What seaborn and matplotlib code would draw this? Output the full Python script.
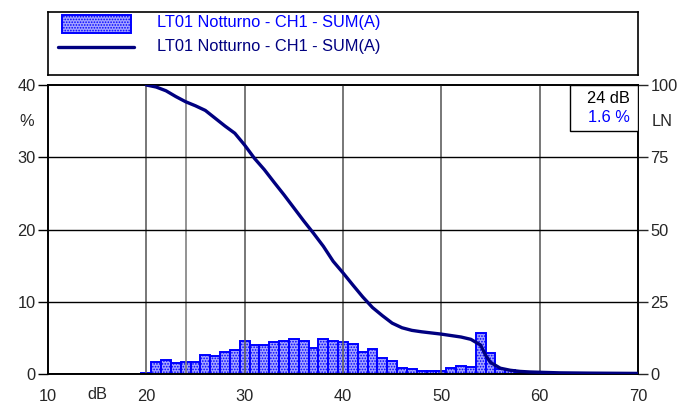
import numpy as np
import matplotlib
matplotlib.use("Agg")
import matplotlib.pyplot as plt
from matplotlib.patches import Rectangle
import seaborn as sns

sns.set_style("white")
plt.rcParams['font.family'] = ['Liberation Sans', 'DejaVu Sans']
plt.rcParams['hatch.linewidth'] = 0.8

# distribuzione (%) per classe di 1 dB
livelli = list(range(20, 70))
perc = [0.1, 1.66, 2.0, 1.58, 1.66, 1.72, 2.63, 2.5, 3.1, 3.3,
        4.57, 3.97, 4.07, 4.4, 4.5, 4.9, 4.6, 3.65, 4.9, 4.6,
        4.43, 4.1, 3.1, 3.5, 2.27, 1.76, 0.88, 0.7, 0.35, 0.35,
        0.35, 0.88, 1.06, 0.97, 5.65, 2.87, 0.75, 0.55, 0.3, 0.15,
        0.1, 0.05, 0.05, 0.05, 0.05, 0.05, 0.05, 0.05, 0.05, 0.05]

# curva LN (%)
ln_db = [20, 21, 22, 23, 24, 25, 26, 27, 28, 29, 30, 31, 32, 33, 34, 35, 36, 37, 38, 39,
         40, 41, 42, 43, 44, 45, 46, 47, 48, 49, 50, 51, 52, 53, 54, 54.5, 55, 56, 57, 58,
         59, 60, 62, 65, 70]
ln_val = [100, 99.3, 98.0, 96.0, 94.2, 92.8, 91.2, 88.5, 85.8, 83.3, 79.2, 74.6, 70.7, 66.3,
          62.0, 57.5, 53.0, 48.7, 44.2, 39.0, 35.0, 30.8, 26.7, 23.0, 20.2, 17.6, 16.0, 15.1,
          14.6, 14.2, 13.8, 13.3, 12.8, 12.0, 10.0, 6.5, 4.0, 2.0, 1.3, 0.9, 0.7, 0.6, 0.4,
          0.3, 0.2]

serie = "LT01 Notturno - CH1 - SUM(A)"
cursore_db = 24
cursore_txt = ["24 dB", "1.6 %"]

blu = "#0000ff"
navy = "#000080"
riemp = "#a4a4ff"
fs = 11.8

fig = plt.figure(figsize=(6.96, 4.05), dpi=100)
ax = fig.add_axes([48 / 696, 31 / 405, 590 / 696, 289 / 405])

sns.histplot(x=livelli, weights=perc, discrete=True, ax=ax, stat="count",
             color=riemp, edgecolor=blu, linewidth=1.4, alpha=1, zorder=2)
for p in ax.patches:
    p.set_hatch("......")
    p.set_facecolor(riemp)
    p.set_edgecolor(blu)

ax.set_xlim(10, 70)
ax.set_ylim(0, 40)
ax.set_yticks([0, 10, 20, 30, 40])
ax.set_xticks([10, 20, 30, 40, 50, 60, 70])
ax.set_ylabel("")
ax.set_xlabel("")
for v in [20, 30, 40, 50, 60]:
    ax.axvline(v, color="#606060", lw=1.2, zorder=3)
ax.axvline(cursore_db, color="#808080", lw=1.2, zorder=3)
for v in [10, 20, 30]:
    ax.axhline(v, color="black", lw=1.0, zorder=3)
ax.axhline(0, color="black", lw=1.2, zorder=3)
ax.tick_params(axis="both", direction="out", length=7, width=1, color="black",
               labelsize=fs, pad=2)
ax.tick_params(axis="x", pad=4)
for s in ax.spines.values():
    s.set_color("black")
    s.set_linewidth(1.2)
ax.text(15, -0.045, "dB", transform=ax.get_xaxis_transform(), ha="center", va="top",
        fontsize=fs)
fig.text(27 / 696, 1 - 122 / 405, "%", ha="center", va="center", fontsize=fs)
fig.text(662 / 696, 1 - 122 / 405, "LN", ha="center", va="center", fontsize=fs)

ax2 = ax.twinx()
sns.lineplot(x=ln_db, y=ln_val, ax=ax2, color=navy, lw=2.4, zorder=5)
ax2.set_ylim(0, 100)
ax2.set_yticks([0, 25, 50, 75, 100])
ax2.set_ylabel("")
ax2.tick_params(axis="y", direction="out", length=7, width=1, labelsize=fs, pad=2)
for s in ax2.spines.values():
    s.set_color("black")
    s.set_linewidth(1.2)

# riquadro cursore
ax2.add_patch(Rectangle((0.885, 0.841), 0.115, 0.159, transform=ax2.transAxes,
                        facecolor="white", edgecolor="black", lw=1, zorder=6))
ax2.text(0.986, 0.955, cursore_txt[0], transform=ax2.transAxes, ha="right", va="center",
         fontsize=fs, color="black", zorder=7)
ax2.text(0.986, 0.886, cursore_txt[1], transform=ax2.transAxes, ha="right", va="center",
         fontsize=fs, color=blu, zorder=7)

# legenda
lg = fig.add_axes([48 / 696, 1 - 75 / 405, 590 / 696, 63 / 405])
lg.set_xlim(0, 590)
lg.set_ylim(63, 0)
lg.set_xticks([])
lg.set_yticks([])
for s in lg.spines.values():
    s.set_color("black")
    s.set_linewidth(1.2)
lg.add_patch(Rectangle((14, 3), 69, 18, facecolor=riemp, edgecolor=blu,
                       hatch="......", lw=1.4))
lg.plot([10, 86], [35, 35], color=navy, lw=2.4)
lg.text(109, 11, serie, color=blu, va="center", fontsize=fs)
lg.text(109, 35, serie, color=navy, va="center", fontsize=fs)

fig.savefig("out.png", dpi=100)
